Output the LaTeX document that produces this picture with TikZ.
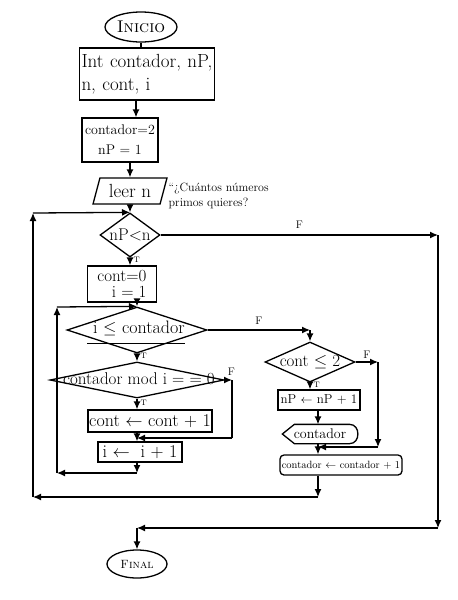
\documentclass[tikz,border=0pt]{standalone}
\usetikzlibrary{shapes.geometric,arrows.meta,calc}
\begin{document}
\begin{tikzpicture}[x=1pt,y=-1pt,line width=1.3pt,
  every node/.style={font=\fontsize{18}{20}\selectfont,inner sep=0pt},
  box/.style={draw,rectangle},
  dia/.style={draw,diamond,inner sep=0pt},
  arr/.style={-{Latex[length=8pt,width=7pt]}},
  tl/.style={font=\fontsize{8}{9}\selectfont},
  fl/.style={font=\fontsize{11}{12}\selectfont}]
\useasboundingbox (0,0) rectangle (458,600);
% nodes
\node[ellipse,draw,minimum width=72,minimum height=30,font=\fontsize{17}{18}\selectfont] (inicio) at (141,27) {\textsc{Inicio}};
\node[box,minimum width=135,minimum height=52,align=left,text width=131,font=\fontsize{19}{23}\selectfont] (decl) at (147,74) {Int contador, nP,\\n, cont, i};
\node[box,minimum width=76,minimum height=44,align=center,font=\fontsize{14}{20}\selectfont] (ini) at (120,140) {contador=2\\nP = 1};
\node[trapezium,trapezium left angle=70,trapezium right angle=110,trapezium stretches=true,draw,minimum width=74,minimum height=26,font=\fontsize{19}{20}\selectfont] (leer) at (130,191) {leer n};
\node[anchor=west,align=left,font=\fontsize{12}{15}\selectfont] (com) at (168,196) {“¿Cuántos números\\primos quieres?};
\node[dia,minimum width=60,minimum height=44] (c1) at (130,235) {};
\node[font=\fontsize{17}{18}\selectfont] (c1t) at (c1) {nP$<$n};
\node[box,minimum width=69,minimum height=36,align=right,font=\fontsize{17}{16}\selectfont] (b2) at (122,284) {cont=0\\i = 1};
\node[dia,minimum width=140,minimum height=46] (c2) at (137,330) {};
\node (c2t) at ($(c2)+(2,-2)$) {i $\leq$ contador};
\coordinate (u1) at ($(c2)+(-50,13)$);
\coordinate (u2) at ($(c2)+(48,13)$);
\draw[line width=0.9pt] (u1) -- (u2);
\node[dia,minimum width=174,minimum height=36] (c3) at (137,380) {};
\node[font=\fontsize{17}{18}\selectfont] (c3t) at ($(c3)+(2,-1)$) {contador mod i = = 0};
\node[box,minimum width=124,minimum height=22] (ca) at (150,421) {cont $\leftarrow$ cont + 1};
\node[box,minimum width=84,minimum height=20] (ib) at (140,452) {i $\leftarrow$ \ i + 1};
\node[dia,minimum width=90,minimum height=40] (c4) at (310,362) {};
\node[font=\fontsize{17}{18}\selectfont] (c4t) at (c4) {cont $\leq$ 2};
\node[box,minimum width=82,minimum height=20,font=\fontsize{13}{14}\selectfont] (np) at (319,400) {nP $\leftarrow$ nP + 1};
\node[minimum width=74,minimum height=18,font=\fontsize{14}{15}\selectfont] (disp) at (320,434) {contador};
\draw (disp.west) -- ($(disp.north west)+(12,0)$) -- ($(disp.north east)+(-8,0)$)
  .. controls ($(disp.north east)+(3,0)$) and ($(disp.south east)+(3,0)$) .. ($(disp.south east)+(-8,0)$)
  -- ($(disp.south west)+(12,0)$) -- cycle;
\node[draw,rounded corners=4pt,minimum width=122,minimum height=20,font=\fontsize{10.5}{12}\selectfont] (cc) at (341,465) {contador $\leftarrow$ contador + 1};
\node[ellipse,draw,minimum width=60,minimum height=28,font=\fontsize{12}{13}\selectfont] (fin) at (137,564) {\textsc{Final}};
% coordinates
\coordinate (k1) at (136,0);
\coordinate (r1) at (438,235);
\coordinate (r2) at (438,528);
\coordinate (fj) at (137,528);
\coordinate (k2) at (310,330);
\coordinate (k3a) at (232,380);
\coordinate (k3b) at (232,438);
\coordinate (j3) at (137,438);
\coordinate (l1) at (137,473);
\coordinate (l2) at (57,473);
\coordinate (l3) at (57,307);
\coordinate (k4) at (318,0);
\coordinate (j4) at (318,447);
\coordinate (k5a) at (378,362);
\coordinate (k5b) at (378,447);
\coordinate (o0) at (318,497);
\coordinate (o1) at (33,497);
\coordinate (o2) at (33,213);
% connectors
\draw (inicio.south) -- (inicio.south |- decl.north);
\draw[arr] (decl.south -| k1) -- (ini.north -| k1);
\draw[arr] (ini.south -| c1) -- (leer.north -| c1);
\draw[arr] (leer.south) -- (c1.north);
\draw[arr] (c1.east) -- node[fl,above=6pt] {F} (r1);
\draw[arr] (r1) -- (r2);
\draw[arr] (r2) -- (fj);
\draw[arr] (fj) -- (fin.north);
\draw[arr] (c1.south) -- node[tl,right=3pt,pos=0.3] {T} (c1.south |- b2.north);
\draw[arr] (c2.north |- b2.south) -- (c2.north);
\draw[arr] (c2.east) -- node[fl,above=5pt] {F} (k2);
\draw[arr] (k2) -- (c4.north);
\draw[arr] (c2.south) -- node[tl,right=3pt,pos=0.3] {T} (c3.north);
\draw[arr] (c3.south) -- node[tl,right=3pt,pos=0.4] {T} (c3.south |- ca.north);
\draw[arr] (c3.east) -- node[fl,above=4pt,pos=0.9] {F} (k3a);
\draw (k3a) -- (k3b);
\draw[arr] (k3b) -- (j3);
\draw (ca.south -| j3) -- (j3);
\draw[arr] (j3) -- (j3 |- ib.north);
\draw[arr] (ib.south -| l1) -- (l1);
\draw[arr] (l1) -- (l2);
\draw[arr] (l2) -- (l3);
\draw[arr] (l3) -- (c2.north);
\draw[arr] (c4.south) -- node[tl,right=3pt,pos=0.3] {T} (c4.south |- np.north);
\draw[arr] (np.south -| k4) -- (disp.north -| k4);
\draw (disp.south -| k4) -- (j4);
\draw[arr] (j4) -- (cc.north -| j4);
\draw[arr] (c4.east) -- node[fl,above=3pt,pos=0.5] {F} (k5a);
\draw[arr] (k5a) -- (k5b);
\draw[arr] (k5b) -- (j4);
\draw[arr] (cc.south -| o0) -- (o0);
\draw[arr] (o0) -- (o1);
\draw[arr] (o1) -- (o2);
\draw[arr] (o2) -- (c1.north);
\end{tikzpicture}
\end{document}
